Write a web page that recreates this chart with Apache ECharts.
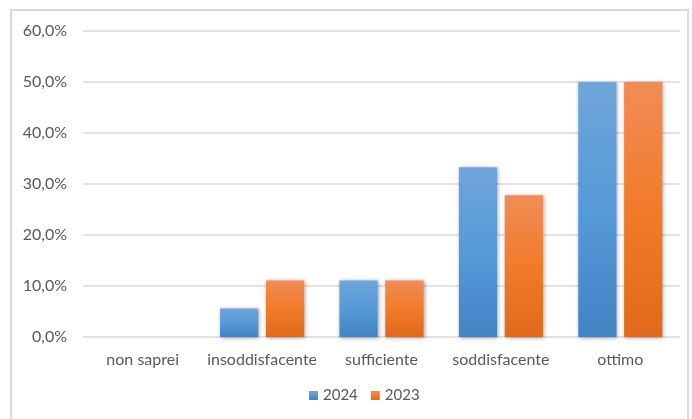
<!DOCTYPE html>
<html>
<head>
<meta charset="utf-8">
<script src="https://cdn.jsdelivr.net/npm/echarts@6/dist/echarts.min.js"></script>
<style>
  html, body { margin: 0; padding: 0; background: #fff; }
  #chart { width: 692px; height: 419px; }
</style>
</head>
<body>
<div id="chart"></div>
<script>
// Giudizio complessivo: percentuali per anno
const categories = ['non saprei', 'insoddisfacente', 'sufficiente', 'soddisfacente', 'ottimo'];
const values2024 = [0, 5.6, 11.1, 33.3, 50.0];
const values2023 = [0, 11.1, 11.1, 27.8, 50.0];
const seriesNames = ['2024', '2023'];

const FONT = 'Lato, "Open Sans", sans-serif';
const TEXT = '#595959';

function vGrad(top, mid, bottom) {
  return new echarts.graphic.LinearGradient(0, 0, 0, 1, [
    { offset: 0, color: top },
    { offset: 0.5, color: mid },
    { offset: 1, color: bottom }
  ]);
}

const shadow = {
  shadowBlur: 4,
  shadowColor: 'rgba(0,0,0,0.35)',
  shadowOffsetX: 1,
  shadowOffsetY: 1
};

const chart = echarts.init(document.getElementById('chart'), null, { renderer: 'canvas' });

chart.setOption({
  animation: false,
  backgroundColor: '#fff',
  graphic: [{
    type: 'rect',
    shape: { x: 11, y: 10, width: 677, height: 430 },
    style: { fill: 'none', stroke: '#d9d9d9', lineWidth: 2 },
    silent: true,
    z: -1
  }],
  grid: { left: 83, right: 12, top: 31, bottom: 82, containLabel: false },
  legend: {
    data: seriesNames,
    bottom: 11,
    left: 304,
    itemWidth: 9,
    itemHeight: 9,
    itemGap: 13,
    icon: 'rect',
    textStyle: { color: TEXT, fontFamily: FONT, fontSize: 15 }
  },
  xAxis: {
    type: 'category',
    data: categories,
    axisLine: { show: false },
    axisTick: { show: false },
    axisLabel: { color: TEXT, fontFamily: FONT, fontSize: 16, margin: 15, interval: 0 }
  },
  yAxis: {
    type: 'value',
    min: 0,
    max: 60,
    interval: 10,
    axisLine: { show: false },
    axisTick: { show: false },
    splitLine: { lineStyle: { color: '#d9d9d9', width: 1.5 } },
    axisLabel: {
      color: TEXT,
      fontFamily: FONT,
      fontSize: 16,
      margin: 16,
      formatter: v => v.toFixed(1).replace('.', ',') + '%'
    }
  },
  series: [
    {
      name: seriesNames[0],
      type: 'bar',
      data: values2024,
      barWidth: '32%',
      barGap: '20%',
      color: '#5b9bd5',
      itemStyle: Object.assign({ color: vGrad('#6fa5da', '#559ad9', '#4283c6') }, shadow)
    },
    {
      name: seriesNames[1],
      type: 'bar',
      data: values2023,
      barWidth: '32%',
      color: '#f07b2a',
      itemStyle: Object.assign({ color: vGrad('#f08c56', '#f27b2a', '#e06a1a') }, shadow)
    }
  ]
});
</script>
</body>
</html>
